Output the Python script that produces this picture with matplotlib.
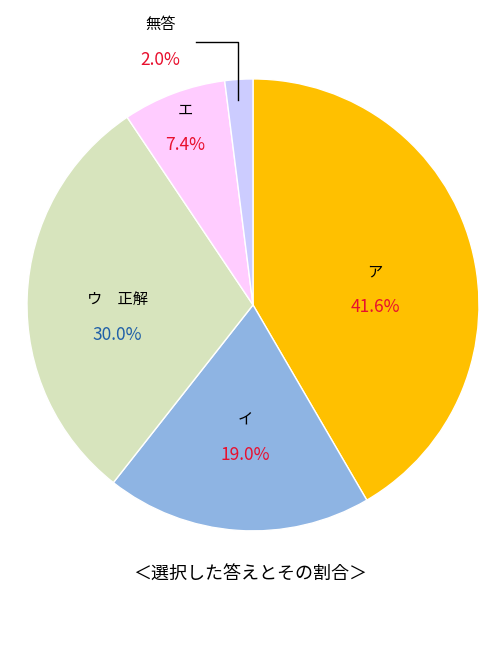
import matplotlib
matplotlib.use("Agg")
import matplotlib.pyplot as plt

plt.rcParams['font.family'] = ['Noto Sans CJK JP', 'DejaVu Sans']

labels = ["ア", "イ", "ウ　正解", "エ", "無答"]
values = [41.6, 19.0, 30.0, 7.4, 2.0]
colors = ["#FFC000", "#8EB4E3", "#D7E4BD", "#FFCCFF", "#CCCCFF"]
pct_colors = ["#E8102E", "#E8102E", "#1F5FA8", "#E8102E", "#E8102E"]
# label positions in pie units (radius 1)
label_pos = [(0.54, 0.146), (-0.035, -0.509), (-0.6, 0.022), (-0.30, 0.863), (-0.41, 1.24)]
pct_gap = 0.155

fig = plt.figure(figsize=(5, 6.6), dpi=100)
ax = fig.add_axes([0.506 - 0.452, 0.538 - 0.3424, 0.904, 0.6848])
ax.pie(values, colors=colors, startangle=90, counterclock=False,
       wedgeprops=dict(edgecolor="white", linewidth=1))
ax.set_xlim(-1, 1)
ax.set_ylim(-1, 1)
ax.set_aspect("equal")
ax.axis("off")

for lab, v, pc, (x, y) in zip(labels, values, pct_colors, label_pos):
    ax.text(x, y, lab, ha="center", va="center", fontsize=11, color="black", clip_on=False)
    ax.text(x, y - pct_gap, f"{v:.1f}%", ha="center", va="center", fontsize=12.5,
            color=pc, clip_on=False)

# leader line for 無答
ax.plot([-0.252, -0.066, -0.066], [1.164, 1.164, 0.907], color="black", lw=1, clip_on=False)

fig.text(0.5, 1 - 575 / 660, "＜選択した答えとその割合＞", ha="center", va="center", fontsize=13)

fig.savefig("out.png")
